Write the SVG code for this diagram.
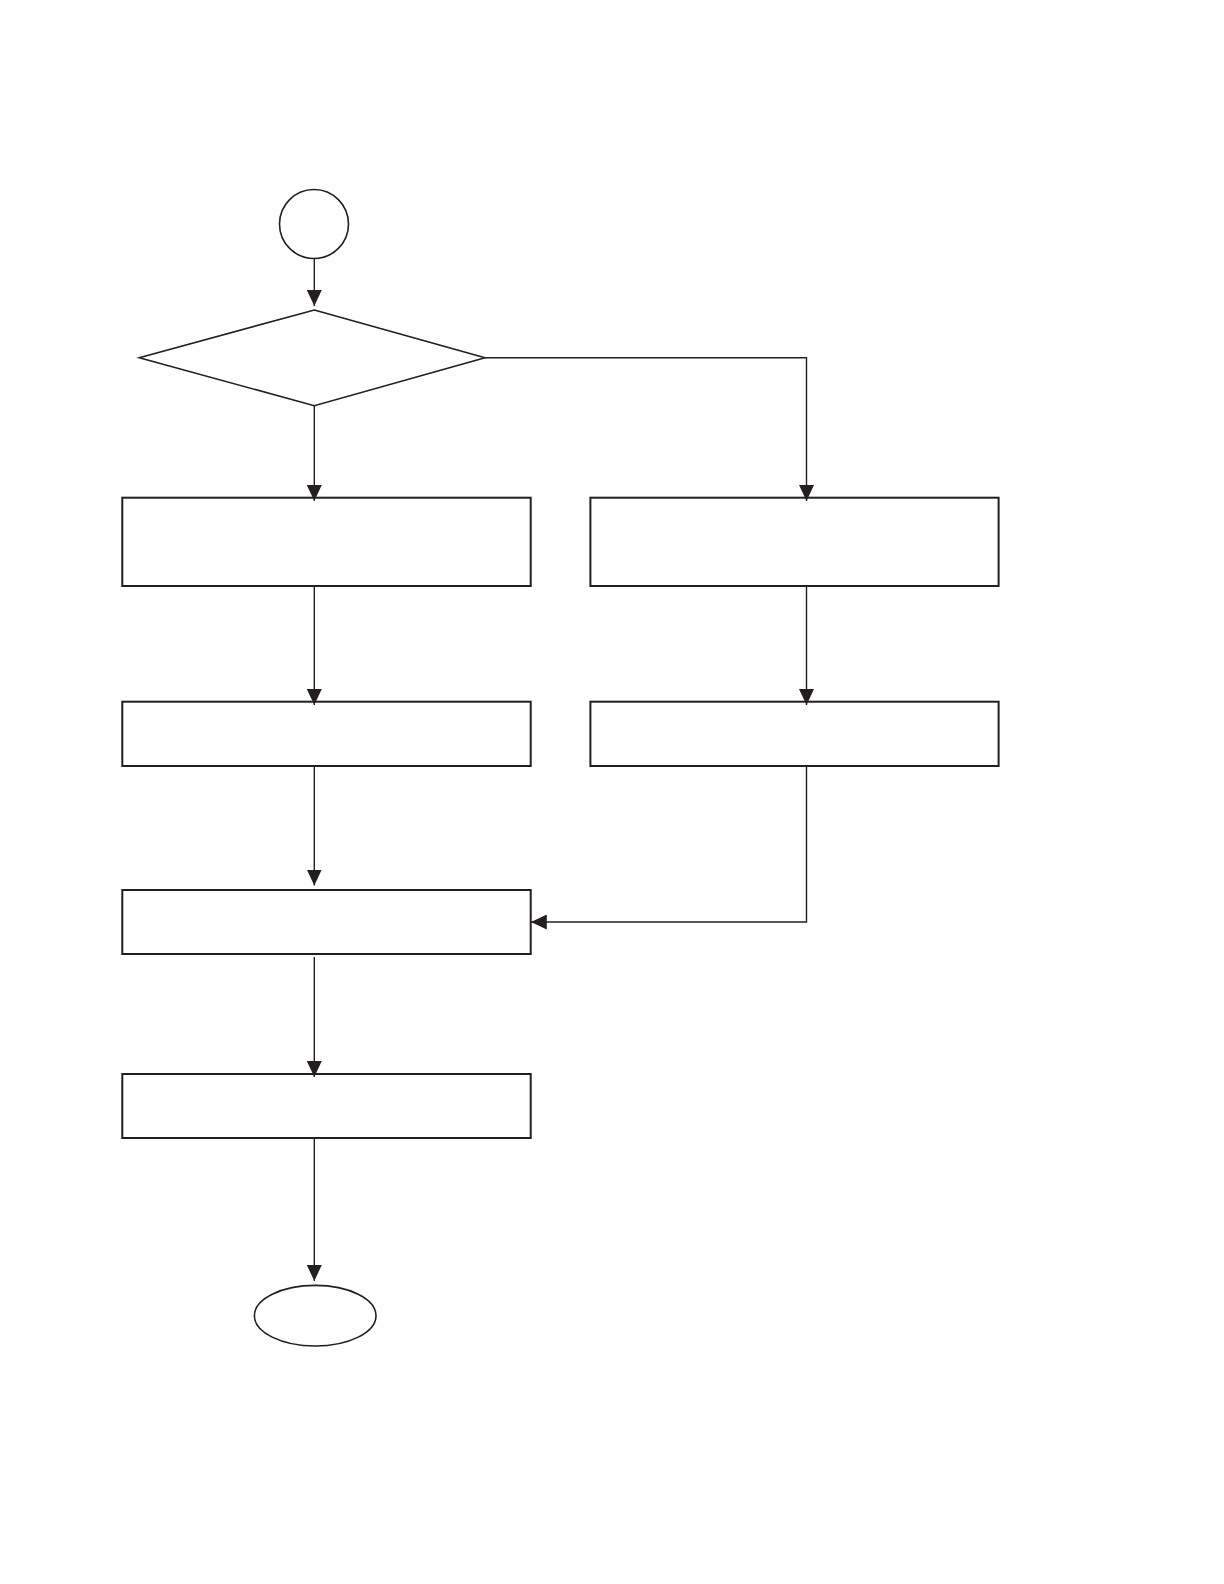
<svg xmlns="http://www.w3.org/2000/svg" width="1224" height="1584" viewBox="0 0 1224 1584">
<style>
.node{fill:#fff;stroke:#231f20;stroke-width:2}
.thin{fill:#fff;stroke:#231f20;stroke-width:1.6}
.edge{fill:none;stroke:#231f20;stroke-width:1.4}
</style>
<defs>
<marker id="ah" markerUnits="userSpaceOnUse" markerWidth="16" markerHeight="15" refX="16" refY="7.5" orient="auto">
<path d="M0,0 L16,7.5 L0,15 z" fill="#231f20"/>
</marker>
</defs>
<rect width="1224" height="1584" fill="#fff"/>
<g id="start"><circle class="thin" cx="314" cy="224" r="34.5"/></g>
<g id="decision"><polygon class="thin" points="314.3,310 485,357.7 314.3,405.7 139.3,357.7"/></g>
<g id="box1"><rect class="node" x="122.3" y="497.7" width="408.4" height="88.3"/></g>
<g id="box2"><rect class="node" x="590.4" y="497.7" width="408.2" height="88.3"/></g>
<g id="box3"><rect class="node" x="122.3" y="701.7" width="408.4" height="64.3"/></g>
<g id="box4"><rect class="node" x="590.4" y="701.7" width="408.2" height="64.3"/></g>
<g id="box5"><rect class="node" x="122.3" y="890" width="408.4" height="64"/></g>
<g id="box6"><rect class="node" x="122.3" y="1074" width="408.4" height="64"/></g>
<g id="end"><ellipse class="thin" cx="315.2" cy="1315.7" rx="60.8" ry="30.3"/></g>
<g id="connectors">
<line class="edge" x1="314.3" y1="258.5" x2="314.3" y2="306" marker-end="url(#ah)"/>
<line class="edge" x1="314.3" y1="405.7" x2="314.3" y2="501" marker-end="url(#ah)"/>
<polyline class="edge" points="485,357.7 806.5,357.7 806.5,501" marker-end="url(#ah)"/>
<line class="edge" x1="314.3" y1="586" x2="314.3" y2="705" marker-end="url(#ah)"/>
<line class="edge" x1="806.5" y1="586" x2="806.5" y2="705" marker-end="url(#ah)"/>
<line class="edge" x1="314.3" y1="766" x2="314.3" y2="885.5" marker-end="url(#ah)"/>
<polyline class="edge" points="806.5,766 806.5,922 530.8,922" marker-end="url(#ah)"/>
<line class="edge" x1="314.3" y1="957" x2="314.3" y2="1077" marker-end="url(#ah)"/>
<line class="edge" x1="314.3" y1="1138" x2="314.3" y2="1281" marker-end="url(#ah)"/>
</g>
</svg>
